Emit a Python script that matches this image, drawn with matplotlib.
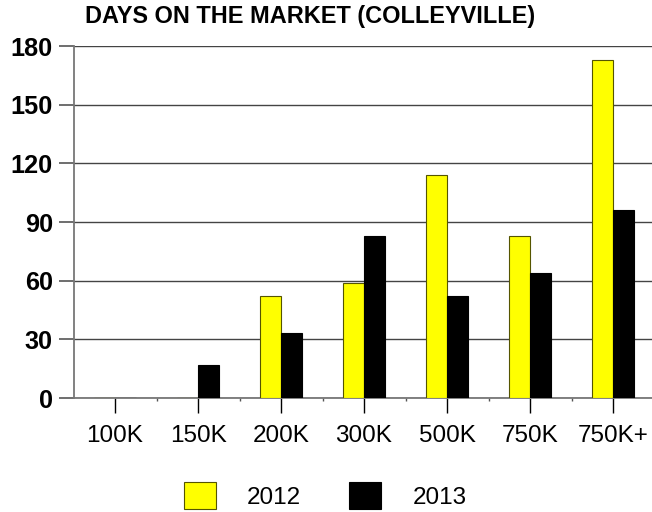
import matplotlib
matplotlib.use("Agg")
import matplotlib.pyplot as plt
from matplotlib.patches import Patch
from matplotlib.ticker import FixedLocator
import numpy as np

categories = ["100K", "150K", "200K", "300K", "500K", "750K", "750K+"]
days_2012 = [0, 0, 52, 59, 114, 83, 173]
days_2013 = [0, 17, 33, 83, 52, 64, 96]
y_ticks = [0, 30, 60, 90, 120, 150, 180]
series_labels = ["2012", "2013"]
title = "DAYS ON THE MARKET (COLLEYVILLE)"

plt.rcParams['font.family'] = ['Liberation Sans', 'DejaVu Sans']

W, H = 652, 512
fig = plt.figure(figsize=(W / 100, H / 100), dpi=100)
left = 73.5 / W
bottom = 1 - 398 / H
top = 1 - 46 / H
width = 581 / W
ax = fig.add_axes([left, bottom, width, top - bottom])

x = np.arange(len(categories))
bw = 0.25
ax.bar(x - bw / 2, days_2012, bw, color="#ffff00", edgecolor="#555500", linewidth=0.8, zorder=3)
ax.bar(x + bw / 2, days_2013, bw, color="#000000", edgecolor="#000000", linewidth=0.8, zorder=3)

ax.set_xlim(-0.5, len(categories) - 0.5)
ax.set_ylim(0, 180)
ax.set_yticks(y_ticks)
ax.set_yticklabels([str(v) for v in y_ticks], fontsize=18.2, fontweight="bold")
ax.set_xticks(x)
ax.set_xticklabels(categories, fontsize=17.5)
ax.xaxis.set_minor_locator(FixedLocator(np.arange(0.5, len(categories) - 0.5, 1)))
ax.tick_params(axis="x", which="major", length=10.6, width=1, color="#000000", pad=9)
ax.tick_params(axis="x", which="minor", length=1.8, width=1, color="#555555")
ax.tick_params(axis="y", which="major", length=10.8, width=1.2, color="#555555", pad=4)

ax.grid(axis="y", color="#444444", linewidth=1.0, zorder=0)
for s in ["top", "right"]:
    ax.spines[s].set_visible(False)
ax.spines["left"].set_color("#777777")
ax.spines["left"].set_linewidth(1.3)
ax.spines["bottom"].set_color("#777777")
ax.spines["bottom"].set_linewidth(1.3)
ax.set_axisbelow(True)

fig.text(85 / W, 1 - 17 / H, title, fontsize=16.9, fontweight="bold", ha="left", va="center")

handles = [Patch(facecolor="#ffff00", edgecolor="#555500", linewidth=0.8),
           Patch(facecolor="#000000", edgecolor="#000000", linewidth=0.8)]
fig.legend(handles, series_labels, loc="center left", bbox_to_anchor=(184 / W, 1 - 495.5 / H),
           ncol=2, frameon=False, fontsize=17.5, handlelength=1.32, handleheight=1.3,
           handletextpad=1.28, columnspacing=1.97, borderpad=0, borderaxespad=0)

fig.savefig("out.png", dpi=100)
